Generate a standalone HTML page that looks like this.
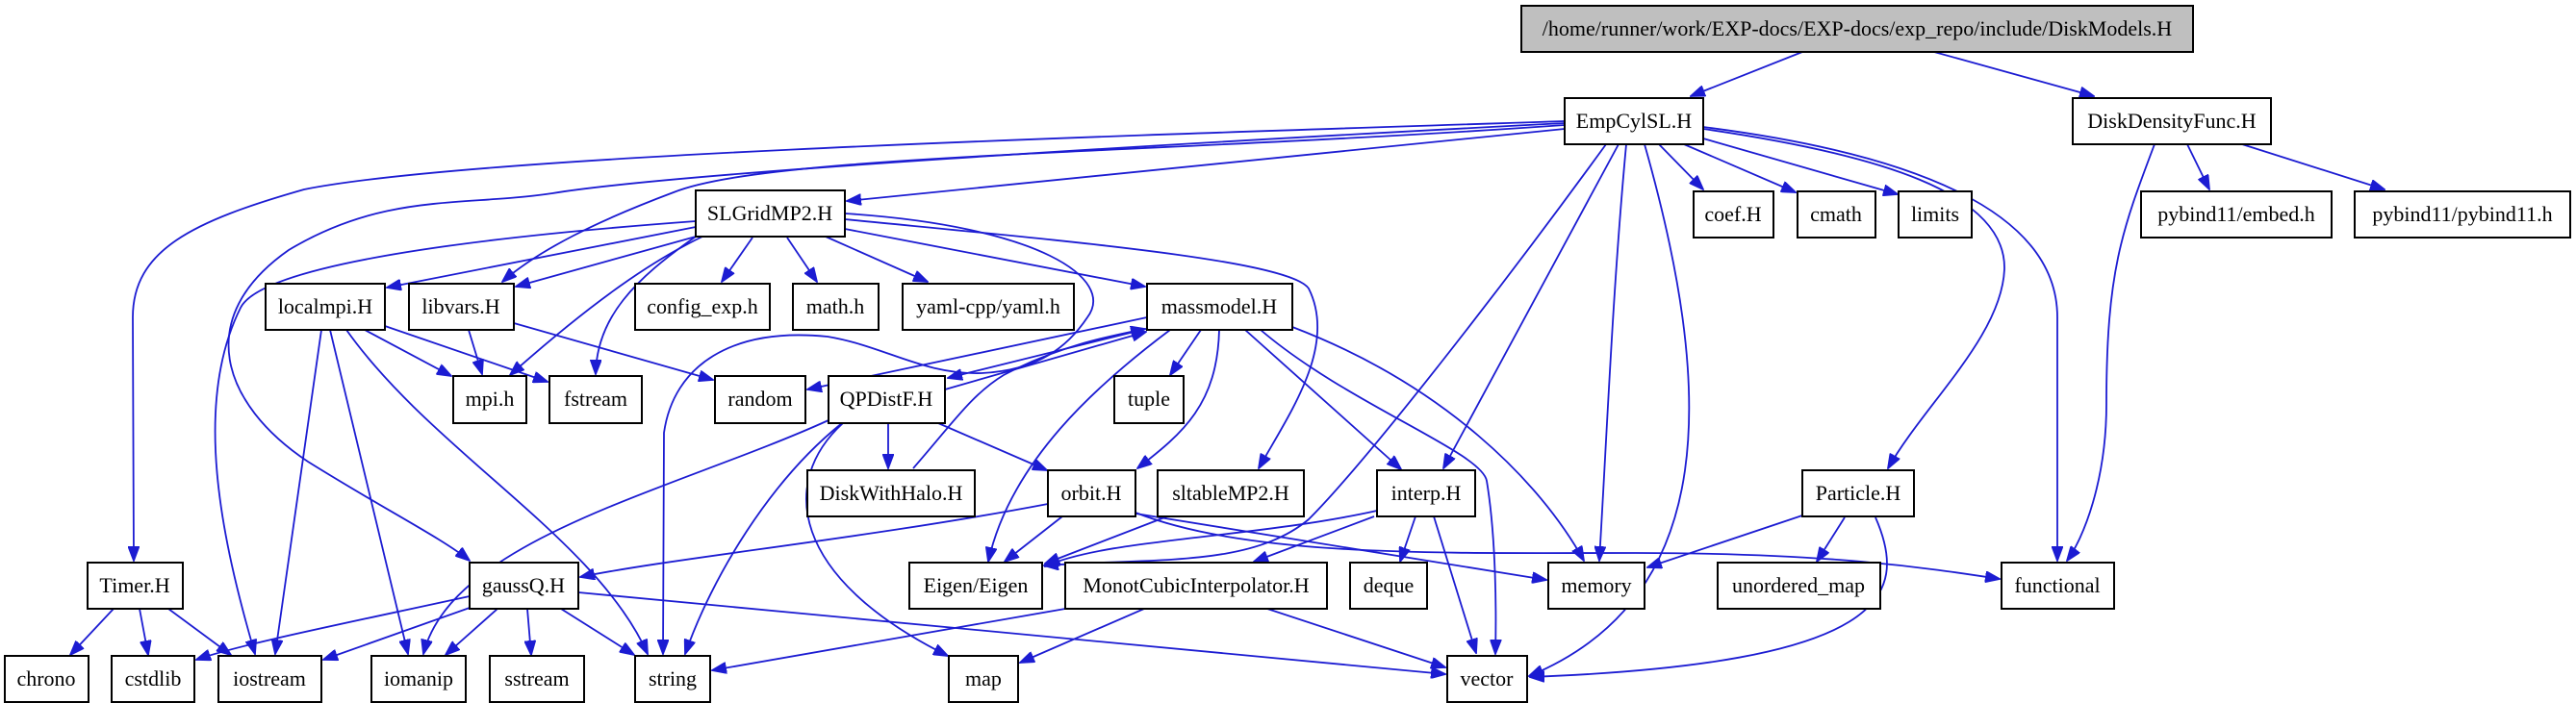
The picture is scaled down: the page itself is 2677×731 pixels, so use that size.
<!DOCTYPE html>
<html><head><meta charset="utf-8"><style>
html,body{margin:0;padding:0;background:#fff;}
svg{display:block;}
text{font-family:"Liberation Serif",serif;font-size:22px;fill:#000;text-anchor:middle;}
rect{fill:#fff;stroke:#000;stroke-width:2;}
path{fill:none;stroke:#1c1cd2;stroke-width:1.8;}
</style></head><body>
<svg width="2677" height="731" viewBox="0 0 2677 731" xmlns="http://www.w3.org/2000/svg">
<defs><marker id="a" markerUnits="userSpaceOnUse" markerWidth="16" markerHeight="12" refX="15" refY="6" orient="auto"><path d="M0,0 L16,6 L0,12 Z" style="fill:#1c1cd2;stroke:#1c1cd2;stroke-width:1"/></marker></defs>
<g marker-end="url(#a)">
<path d="M1873,54 L1757,100"/>
<path d="M2010,54 L2176,100"/>
<path d="M2239,150 C2205,240 2189,282 2189,420 C2189,500 2165,560 2148,583"/>
<path d="M2273,150 L2296,197"/>
<path d="M2330,150 L2478,197"/>
<path d="M1724,150 L1770,197"/>
<path d="M1750,150 L1866,200"/>
<path d="M1770,144 L1972,202"/>
<path d="M1770,132 C1990,160 2138,220 2138,330 L2138,583"/>
<path d="M1770,134 C1950,160 2085,200 2083,280 C2080,350 2000,420 1962,487"/>
<path d="M1690,150 C1676,300 1670,450 1662,583"/>
<path d="M1709,150 C1780,400 1790,620 1589,703"/>
<path d="M1682,150 L1500,487"/>
<path d="M1669,150 C1560,300 1420,480 1360,540 C1300,590 1200,580 1085,588"/>
<path d="M1626,134 L880,209"/>
<path d="M1626,130 C1200,160 800,160 700,200 C620,230 560,260 522,293"/>
<path d="M1626,128 C1200,150 700,180 574,201 C480,215 400,200 300,260 C200,330 230,420 320,480 C400,530 460,560 488,583"/>
<path d="M1626,126 C1200,140 500,160 316,197 C200,230 138,260 138,330 L139,583"/>
<path d="M723,236 L402,299"/>
<path d="M723,246 L536,298"/>
<path d="M782,247 L750,293"/>
<path d="M818,247 L849,293"/>
<path d="M858,246 L964,293"/>
<path d="M878,238 L1190,298"/>
<path d="M730,246 C680,270 620,310 530,390"/>
<path d="M723,246 C660,290 620,330 619,389"/>
<path d="M723,230 C450,250 270,280 250,320 C200,420 230,560 265,680"/>
<path d="M878,228 C1100,250 1340,270 1360,300 C1390,360 1340,430 1308,487"/>
<path d="M878,222 C1080,235 1160,290 1130,330 C1110,360 1080,385 1020,388 C960,390 920,360 860,350 C760,340 700,380 690,450 L689,680"/>
<path d="M487,343 L501,389"/>
<path d="M534,336 L741,395"/>
<path d="M379,343 L469,391"/>
<path d="M400,339 L569,397"/>
<path d="M334,343 L286,680"/>
<path d="M343,343 L424,680"/>
<path d="M360,343 C450,470 620,560 673,680"/>
<path d="M1192,330 L839,405"/>
<path d="M1195,341 L985,393"/>
<path d="M982,405 L1191,345"/>
<path d="M949,487 C990,440 1010,410 1043,390 C1100,360 1150,350 1190,342"/>
<path d="M1248,343 L1216,390"/>
<path d="M1216,343 C1140,400 1050,480 1027,584"/>
<path d="M1267,343 C1265,420 1230,450 1182,487"/>
<path d="M1294,343 L1456,488"/>
<path d="M1310,343 C1400,420 1540,470 1545,500 C1555,560 1555,640 1554,680"/>
<path d="M1343,340 C1500,400 1600,500 1646,583"/>
<path d="M923,440 L923,487"/>
<path d="M975,440 L1088,489"/>
<path d="M861,437 C700,510 470,560 440,680"/>
<path d="M875,440 C800,500 740,600 712,680"/>
<path d="M876,440 C810,500 820,600 985,682"/>
<path d="M1089,524 C900,560 700,580 603,600"/>
<path d="M1104,537 L1044,584"/>
<path d="M1180,534 L1607,603"/>
<path d="M1180,533 C1300,580 1500,575 1700,575 C1900,575 2000,590 2078,602"/>
<path d="M1213,537 L1086,586"/>
<path d="M1431,531 C1300,560 1150,560 1086,589"/>
<path d="M1428,537 L1303,584"/>
<path d="M1471,537 L1455,584"/>
<path d="M1490,537 L1534,679"/>
<path d="M1107,633 L740,697"/>
<path d="M1189,633 L1060,689"/>
<path d="M1317,633 L1502,694"/>
<path d="M488,620 C350,650 250,670 204,686"/>
<path d="M488,632 L336,686"/>
<path d="M517,633 L463,681"/>
<path d="M548,633 L552,681"/>
<path d="M583,633 L659,681"/>
<path d="M601,616 L1502,701"/>
<path d="M118,633 L73,681"/>
<path d="M145,633 L154,681"/>
<path d="M175,633 L240,681"/>
<path d="M1873,536 L1712,590"/>
<path d="M1917,538 L1888,584"/>
<path d="M1949,538 C1985,620 1960,690 1590,704"/>
</g>
<g>
<rect x="1581" y="6" width="698" height="48" style="fill:#bfbfbf"/><text x="1930" y="37">/home/runner/work/EXP-docs/EXP-docs/exp_repo/include/DiskModels.H</text>
<rect x="1626" y="102" width="144" height="48"/><text x="1698" y="133">EmpCylSL.H</text>
<rect x="2154" y="102" width="206" height="48"/><text x="2257" y="133">DiskDensityFunc.H</text>
<rect x="723" y="198" width="155" height="48"/><text x="800" y="229">SLGridMP2.H</text>
<rect x="1760" y="199" width="83" height="48"/><text x="1801" y="230">coef.H</text>
<rect x="1868" y="199" width="81" height="48"/><text x="1908" y="230">cmath</text>
<rect x="1973" y="199" width="76" height="48"/><text x="2011" y="230">limits</text>
<rect x="2225" y="199" width="198" height="48"/><text x="2324" y="230">pybind11/embed.h</text>
<rect x="2447" y="199" width="224" height="48"/><text x="2559" y="230">pybind11/pybind11.h</text>
<rect x="276" y="295" width="124" height="48"/><text x="338" y="326">localmpi.H</text>
<rect x="425" y="295" width="109" height="48"/><text x="479" y="326">libvars.H</text>
<rect x="660" y="295" width="140" height="48"/><text x="730" y="326">config_exp.h</text>
<rect x="824" y="295" width="89" height="48"/><text x="868" y="326">math.h</text>
<rect x="938" y="295" width="178" height="48"/><text x="1027" y="326">yaml-cpp/yaml.h</text>
<rect x="1192" y="295" width="151" height="48"/><text x="1267" y="326">massmodel.H</text>
<rect x="471" y="391" width="76" height="49"/><text x="509" y="422">mpi.h</text>
<rect x="571" y="391" width="96" height="49"/><text x="619" y="422">fstream</text>
<rect x="743" y="391" width="94" height="49"/><text x="790" y="422">random</text>
<rect x="861" y="391" width="121" height="49"/><text x="921" y="422">QPDistF.H</text>
<rect x="1158" y="391" width="72" height="49"/><text x="1194" y="422">tuple</text>
<rect x="839" y="489" width="174" height="48"/><text x="926" y="520">DiskWithHalo.H</text>
<rect x="1089" y="489" width="91" height="48"/><text x="1134" y="520">orbit.H</text>
<rect x="1203" y="489" width="152" height="48"/><text x="1279" y="520">sltableMP2.H</text>
<rect x="1431" y="489" width="102" height="48"/><text x="1482" y="520">interp.H</text>
<rect x="1873" y="489" width="116" height="48"/><text x="1931" y="520">Particle.H</text>
<rect x="91" y="585" width="99" height="48"/><text x="140" y="616">Timer.H</text>
<rect x="488" y="585" width="113" height="48"/><text x="544" y="616">gaussQ.H</text>
<rect x="945" y="585" width="138" height="48"/><text x="1014" y="616">Eigen/Eigen</text>
<rect x="1107" y="585" width="272" height="48"/><text x="1243" y="616">MonotCubicInterpolator.H</text>
<rect x="1403" y="585" width="80" height="48"/><text x="1443" y="616">deque</text>
<rect x="1609" y="585" width="100" height="48"/><text x="1659" y="616">memory</text>
<rect x="1785" y="585" width="169" height="48"/><text x="1869" y="616">unordered_map</text>
<rect x="2080" y="585" width="117" height="48"/><text x="2138" y="616">functional</text>
<rect x="5" y="682" width="87" height="48"/><text x="48" y="713">chrono</text>
<rect x="116" y="682" width="86" height="48"/><text x="159" y="713">cstdlib</text>
<rect x="227" y="682" width="107" height="48"/><text x="280" y="713">iostream</text>
<rect x="386" y="682" width="98" height="48"/><text x="435" y="713">iomanip</text>
<rect x="509" y="682" width="98" height="48"/><text x="558" y="713">sstream</text>
<rect x="660" y="682" width="78" height="48"/><text x="699" y="713">string</text>
<rect x="986" y="682" width="72" height="48"/><text x="1022" y="713">map</text>
<rect x="1504" y="682" width="83" height="48"/><text x="1545" y="713">vector</text>
</g>
</svg>
</body></html>
